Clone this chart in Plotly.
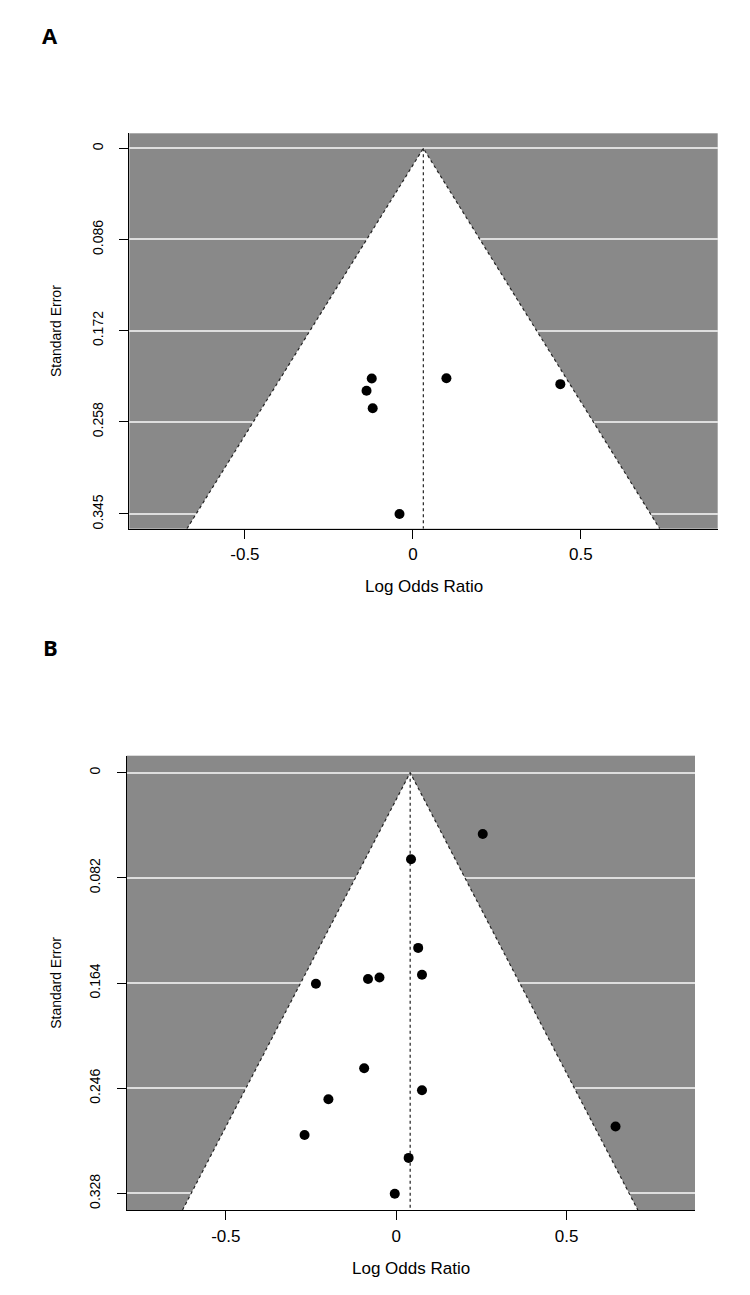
import plotly.graph_objects as go

# panel A: log odds ratio and standard error of each study
a_lor = [-0.1225, 0.0997, 0.4387, -0.138, -0.1197, -0.0399]
a_se = [0.2172, 0.2169, 0.2225, 0.2288, 0.2452, 0.345]
a_center = 0.031
a_yticks = [0, 0.086, 0.172, 0.258, 0.345]
a_ylabels = ["0", "0.086", "0.172", "0.258", "0.345"]

# panel B
b_lor = [0.254, 0.0435, 0.0645, 0.0757, -0.0491, -0.0827, -0.2356,
         -0.094, 0.0757, -0.199, 0.6438, -0.269, 0.0365, -0.0042]
b_se = [0.0478, 0.0675, 0.1366, 0.1575, 0.1597, 0.1608, 0.1645,
        0.2304, 0.2476, 0.2546, 0.2758, 0.2825, 0.3003, 0.3282]
b_center = 0.041
b_yticks = [0, 0.082, 0.164, 0.246, 0.328]
b_ylabels = ["0", "0.082", "0.164", "0.246", "0.328"]

x_ticks = [-0.5, 0, 0.5]
x_labels = ["-0.5", "0", "0.5"]

# page has an 8px body margin, so the figure is a bit smaller than the window
OFF = 8
W, H = 750 - 2 * OFF, 1295 - 2 * OFF
FONT = "Liberation Sans, Arial, sans-serif"
GREY = "#898989"


def px(x):
    return (x - OFF) / W


def py(y):
    return 1 - (y - OFF) / H


panels = [
    dict(lor=a_lor, se=a_se, center=a_center, yt=a_yticks, yl=a_ylabels,
         ymax=0.3589, ytop=-0.0142, xr=[-0.844, 0.907],
         box=(129.3, 717.7, 133.3, 528.7), letter="A", letter_y=35),
    dict(lor=b_lor, se=b_se, center=b_center, yt=b_yticks, yl=b_ylabels,
         ymax=0.3409, ytop=-0.0132, xr=[-0.791, 0.877],
         box=(126.7, 695.0, 755.7, 1210.0), letter="B", letter_y=647),
]

fig = go.Figure()
layout = dict(width=W, height=H, margin=dict(l=0, r=0, t=0, b=0),
              paper_bgcolor="white", plot_bgcolor=GREY, showlegend=False,
              font=dict(family=FONT, color="black"), annotations=[])

for i, p in enumerate(panels):
    xa = "x" if i == 0 else "x%d" % (i + 1)
    ya = "y" if i == 0 else "y%d" % (i + 1)
    c, ymax = p["center"], p["ymax"]
    ex = [c - 1.96 * ymax, c, c + 1.96 * ymax]
    ey = [ymax, 0, ymax]
    fig.add_trace(go.Scatter(x=ex, y=ey, fill="toself", fillcolor="white",
                             mode="lines", line=dict(width=0),
                             xaxis=xa, yaxis=ya, hoverinfo="skip"))
    fig.add_trace(go.Scatter(x=ex, y=ey, mode="lines",
                             line=dict(color="#222", width=1.2, dash="dot"),
                             xaxis=xa, yaxis=ya))
    fig.add_trace(go.Scatter(x=[c, c], y=[0, ymax], mode="lines",
                             line=dict(color="#222", width=1.2, dash="dot"),
                             xaxis=xa, yaxis=ya))
    fig.add_trace(go.Scatter(x=p["lor"], y=p["se"], mode="markers",
                             marker=dict(color="black", size=10),
                             xaxis=xa, yaxis=ya))

    l, r, t, b = p["box"]
    xkey = "xaxis" if i == 0 else "xaxis%d" % (i + 1)
    ykey = "yaxis" if i == 0 else "yaxis%d" % (i + 1)
    layout[xkey] = dict(domain=[px(l), px(r)], range=p["xr"], anchor=ya,
                        tickvals=x_ticks, ticktext=x_labels, ticks="outside",
                        ticklen=9, tickcolor="black", showline=True,
                        linecolor="black", linewidth=1.3, showgrid=False,
                        zeroline=False, tickfont=dict(size=17),
                        ticklabelstandoff=1)
    layout[ykey] = dict(domain=[py(b), py(t)], range=[ymax, p["ytop"]],
                        anchor=xa, tickvals=p["yt"], ticktext=p["yl"],
                        ticks="outside", ticklen=9, tickcolor="black",
                        tickangle=-90, showline=True, linecolor="black",
                        linewidth=1.3, showgrid=True, gridcolor="#dedede",
                        gridwidth=1.6, zeroline=False, tickfont=dict(size=14),
                        ticklabelstandoff=11)
    layout["annotations"] += [
        dict(text="Standard Error", textangle=-90, x=px(56),
             y=py((t + b) / 2), xref="paper", yref="paper",
             xanchor="center", yanchor="middle",
             showarrow=False, font=dict(size=14)),
        dict(text="Log Odds Ratio", x=px((l + r) / 2), y=py(b + 58),
             xref="paper", yref="paper", xanchor="center", yanchor="middle",
             showarrow=False, font=dict(size=17)),
        dict(text="<b>%s</b>" % p["letter"], x=px(50), y=py(p["letter_y"]),
             xref="paper", yref="paper", xanchor="center", yanchor="middle",
             showarrow=False, font=dict(size=22, family="Open Sans, sans-serif")),
    ]

fig.update_layout(**layout)
fig.write_html("out.html")
